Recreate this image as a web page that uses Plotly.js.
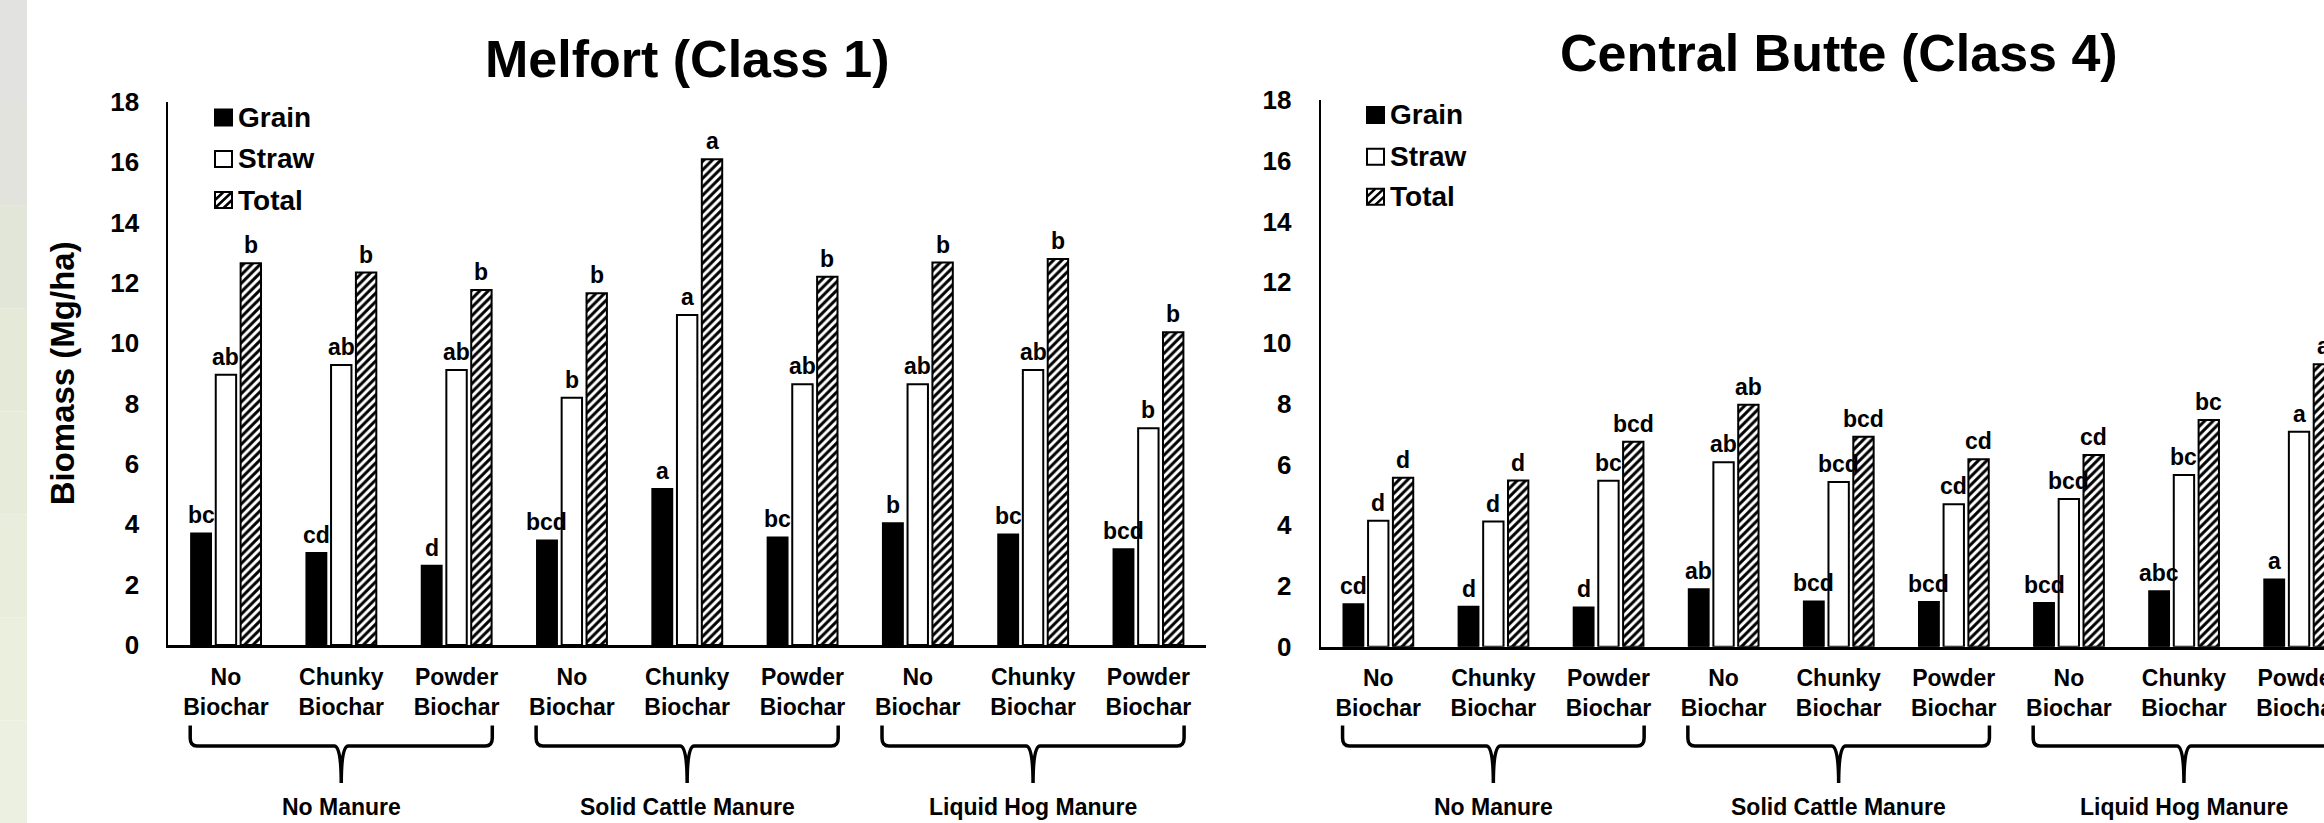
<!DOCTYPE html>
<html>
<head>
<meta charset="utf-8">
<script src="https://cdn.plot.ly/plotly-3.0.1.min.js"></script>
<style>
html,body{margin:0;padding:0;overflow:hidden;background:#fff;}
#chart{width:2400px;height:823px;}
</style>
</head>
<body>
<div id="chart"></div>
<script>
// ---------- data ----------
const biocharLabels = ["No<br>Biochar","Chunky<br>Biochar","Powder<br>Biochar",
                       "No<br>Biochar","Chunky<br>Biochar","Powder<br>Biochar",
                       "No<br>Biochar","Chunky<br>Biochar","Powder<br>Biochar"];
const manureGroups = ["No Manure","Solid Cattle Manure","Liquid Hog Manure"];
const seriesNames = ["Grain","Straw","Total"];
const chartTitles = ["Melfort (Class 1)","Central Butte (Class 4)"];
const yAxisTitle = "Biomass (Mg/ha)";

const melfortGrain = [3.70,3.06,2.63,3.47,5.18,3.57,4.04,3.67,3.18];
const melfortStraw = [8.95,9.28,9.11,8.19,10.93,8.64,8.64,9.11,7.18];
const melfortTotal = [12.65,12.34,11.76,11.65,16.09,12.20,12.67,12.79,10.36];
const melfortGrainLetters = ["bc","cd","d","bcd","a","bc","b","bc","bcd"];
const melfortStrawLetters = ["ab","ab","ab","b","a","ab","ab","ab","b"];
const melfortTotalLetters = ["b","b","b","b","a","b","b","b","b"];

const butteGrain = [1.41,1.32,1.30,1.90,1.50,1.48,1.45,1.83,2.22];
const butteStraw = [4.15,4.12,5.46,6.07,5.42,4.69,4.86,5.65,7.08];
const butteTotal = [5.56,5.47,6.75,7.97,6.91,6.17,6.31,7.46,9.30];
const butteGrainLetters = ["cd","d","d","ab","bcd","bcd","bcd","abc","a"];
const butteStrawLetters = ["d","d","bc","ab","bcd","cd","bcd","bc","a"];
const butteTotalLetters = ["d","d","bcd","ab","bcd","cd","cd","bc","a"];

// ---------- layout helpers ----------
const W = 2400, H = 823;
const px = v => v / W;
const py = v => (H - v) / H;
const F = "Liberation Sans, Arial, sans-serif";
const xIdx = biocharLabels.map((_, i) => i);
const BARGAP = 0.353, GROUPGAP = 0.18;
const slot = (1 - BARGAP) / 3;

const styles = [
  {color:"#000000", line:{color:"#000", width:1.5}},
  {color:"#ffffff", line:{color:"#000", width:2}},
  {color:"#ffffff", line:{color:"#000", width:2},
   pattern:{shape:"/", fgcolor:"#000", bgcolor:"#fff", size:6, solidity:0.5}}
];

const charts = [
  {xa:"x", ya:"y", series:[melfortGrain, melfortStraw, melfortTotal],
   letters:[melfortGrainLetters, melfortStrawLetters, melfortTotalLetters]},
  {xa:"x2", ya:"y2", series:[butteGrain, butteStraw, butteTotal],
   letters:[butteGrainLetters, butteStrawLetters, butteTotalLetters]}
];

const traces = [];
const annotations = [];
const shapes = [];

// textured left strip (background), drawn as a soft vertical gradient
const stripColors = ["#e2e3e0","#e1e3dc","#e2e6d8","#e4e9d8","#e6ebda","#e8eddc","#eaefde","#ecf0e0"];
stripColors.forEach((col, i) => {
  shapes.push({type:"rect", xref:"paper", yref:"paper", x0:0, x1:px(27),
    y0:1 - (i + 1) / stripColors.length, y1:1 - i / stripColors.length,
    fillcolor:col, line:{width:0}, layer:"below"});
});

charts.forEach((c, ci) => {
  c.series.forEach((vals, k) => {
    traces.push({
      type:"bar", name:seriesNames[k], x:xIdx, y:vals,
      xaxis:c.xa, yaxis:c.ya, marker:styles[k], showlegend:false,
      hoverinfo:"skip"
    });
    vals.forEach((v, i) => {
      annotations.push({
        xref:c.xa, yref:c.ya, x:i + (k - 1) * slot, y:v,
        text:c.letters[k][i], showarrow:false, yanchor:"bottom", yshift:3,
        font:{family:F, size:23, weight:"bold", color:"#000"}
      });
    });
  });
  // manure group labels and braces
  manureGroups.forEach((g, gi) => {
    const s = gi * 3;
    annotations.push({
      xref:c.xa, yref:"paper", x:s + 1, y:py(806.5), text:g, showarrow:false,
      yanchor:"middle", font:{family:F, size:23, weight:"bold", color:"#000"}
    });
    const xl = s - 0.31, xr = s + 2.31, xc = s + 1;
    const yT = py(725.5), yM = py(746), yB = py(783);
    const rx = 0.06, ry = 8 / H;
    const path = `M${xl},${yT} L${xl},${yM + ry} Q${xl},${yM} ${xl + rx},${yM} ` +
                 `L${xc - rx},${yM} Q${xc},${yM} ${xc},${yB} Q${xc},${yM} ${xc + rx},${yM} ` +
                 `L${xr - rx},${yM} Q${xr},${yM} ${xr},${yM + ry} L${xr},${yT}`;
    shapes.push({type:"path", xref:c.xa, yref:"paper", path:path,
                 line:{color:"#000", width:3.5}});
  });
});

// chart titles
annotations.push({xref:"x domain", yref:"paper", x:0.5, y:py(59), text:chartTitles[0],
  showarrow:false, yanchor:"middle", font:{family:F, size:52, weight:"bold", color:"#000"}});
annotations.push({xref:"x2 domain", yref:"paper", x:0.5, y:py(53), text:chartTitles[1],
  showarrow:false, yanchor:"middle", font:{family:F, size:52, weight:"bold", color:"#000"}});

// custom legends
const legendPos = [{x:215, ys:[117.5,159,200]}, {x:1367, ys:[115,156.7,196.7]}];
legendPos.forEach(lp => {
  seriesNames.forEach((n, k) => {
    const x0 = lp.x, x1 = lp.x + 17, y0 = lp.ys[k] - 8, y1 = lp.ys[k] + 8;
    shapes.push({type:"rect", xref:"paper", yref:"paper",
      x0:px(x0), x1:px(x1), y0:py(y1), y1:py(y0),
      fillcolor: k === 0 ? "#000" : "#fff", line:{color:"#000", width:2}});
    if (k === 2) {
      const xm = (x0 + x1) / 2, ym = (y0 + y1) / 2;
      const p = `M${px(x0)},${py(y1)} L${px(x1)},${py(y0)} ` +
                `M${px(x0)},${py(ym)} L${px(xm)},${py(y0)} ` +
                `M${px(xm)},${py(y1)} L${px(x1)},${py(ym)}`;
      shapes.push({type:"path", xref:"paper", yref:"paper", path:p,
        line:{color:"#000", width:2.5}});
    }
    annotations.push({xref:"paper", yref:"paper", x:px(x1 + 4), y:py(lp.ys[k]),
      text:n, showarrow:false, xanchor:"left", yanchor:"middle",
      font:{family:F, size:28, weight:"bold", color:"#000"}});
  });
});

const yBase = {range:[0,18], dtick:2, tick0:0, showline:true, linecolor:"#000", linewidth:2,
  ticks:"", showgrid:false, zeroline:false, fixedrange:true, ticklabelstandoff:22,
  tickfont:{family:F, size:26, weight:"bold", color:"#000"}};
const xBase = {range:[-0.5,8.5], tickmode:"array", tickvals:xIdx, ticktext:biocharLabels,
  showline:true, linecolor:"#000", linewidth:3, ticks:"", showgrid:false, zeroline:false,
  fixedrange:true, ticklabelstandoff:9,
  tickfont:{family:F, size:23, weight:"bold", color:"#000"}};

const layout = {
  width:W, height:H, margin:{l:0, r:0, t:0, b:0},
  paper_bgcolor:"#fff", plot_bgcolor:"rgba(0,0,0,0)",
  barmode:"group", bargap:BARGAP, bargroupgap:GROUPGAP, showlegend:false,
  font:{family:F, color:"#000"},
  xaxis:Object.assign({}, xBase, {domain:[px(168.3), px(168.3 + 9 * 115.3)], anchor:"y"}),
  yaxis:Object.assign({}, yBase, {domain:[py(645), py(101.7)], anchor:"x",
     title:{text:yAxisTitle, standoff:26, font:{family:F, size:33, weight:"bold", color:"#000"}}}),
  xaxis2:Object.assign({}, xBase, {domain:[px(1320.7), px(1320.7 + 9 * 115.1)], anchor:"y2"}),
  yaxis2:Object.assign({}, yBase, {domain:[py(646.7), py(100)], anchor:"x2"}),
  annotations:annotations, shapes:shapes
};

Plotly.newPlot("chart", traces, layout, {staticPlot:true, displayModeBar:false});
</script>
</body>
</html>
